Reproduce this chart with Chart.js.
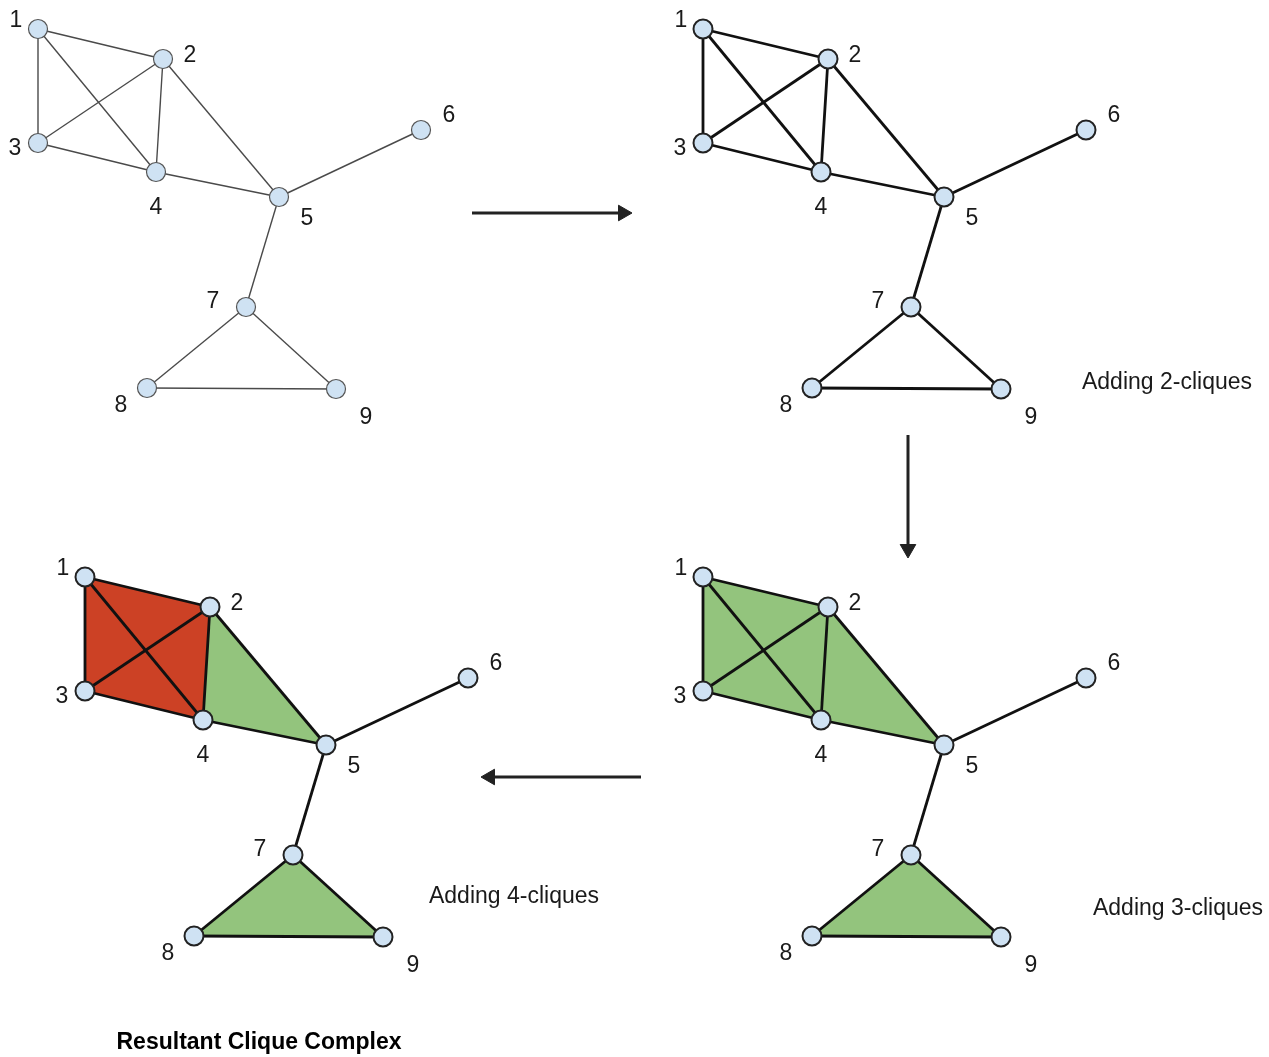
<!DOCTYPE html>
<html>
<head>
<meta charset="utf-8">
<script src="https://cdn.jsdelivr.net/npm/chart.js@4.4.0/dist/chart.umd.min.js"></script>
<style>
  body { margin: 0; background: #fff; }
  #wrap { width: 1269px; height: 1057px; }
</style>
</head>
<body>
<div id="wrap"><canvas id="graph" width="1269" height="1057"></canvas></div>
<script>
// nodes of the base graph (top-left panel), in picture units
const nodeNames = ["1", "2", "3", "4", "5", "6", "7", "8", "9"];
const nodeX = [38, 163, 38, 156, 279, 421, 246, 147, 336];
const nodeY = [29, 59, 143, 172, 197, 130, 307, 388, 389];

// edges, by node number
const edges = [[1, 2], [1, 3], [1, 4], [2, 3], [2, 4], [2, 5], [3, 4], [4, 5], [5, 6], [5, 7], [7, 8], [7, 9], [8, 9]];

// the 4 panels: same graph, shifted
const panelDX = [0, 665, 665, 47];
const panelDY = [0, 0, 548, 548];

// filled cliques in each panel (node numbers, in polygon order)
const greenCliques = [[], [], [[1, 2, 4, 3], [2, 5, 4], [7, 8, 9]], [[2, 5, 4], [7, 8, 9]]];
const redCliques = [[], [], [], [[1, 2, 4, 3]]];

// arrows between panels
const arrowStartX = [472, 908, 641];
const arrowStartY = [213, 435, 777];
const arrowEndX = [632, 908, 481];
const arrowEndY = [213, 558, 777];

// captions
const captionTexts = ["Adding 2-cliques", "Adding 3-cliques", "Adding 4-cliques", "Resultant Clique Complex"];
const captionX = [1167, 1178, 514, 259];
const captionY = [383, 909, 897, 1043];

// where the number sits next to its node
const labelDX = [-22, 27, -23, 0, 28, 28, -33, -26, 30];
const labelDY = [-8, -3, 6, 36, 22, -14, -5, 18, 29];

const GREEN = "#93c47d";
const RED = "#cc4125";
const NODE_FILL = "#cfe2f3";
const FONT = "'Liberation Sans', Arial, sans-serif";

function pt(n, p) {
  return { x: nodeX[n - 1] + panelDX[p], y: nodeY[n - 1] + panelDY[p] };
}

const datasets = [];

// filled cliques (drawn at the back)
function addClique(poly, p, color) {
  const data = poly.map((n) => pt(n, p));
  data.push(pt(poly[0], p));
  datasets.push({
    data: data,
    showLine: true,
    fill: "shape",
    backgroundColor: color,
    borderColor: "rgba(0,0,0,0)",
    borderWidth: 0,
    pointRadius: 0,
    tension: 0,
    order: 3,
  });
}
for (let p = 0; p < 4; p++) {
  greenCliques[p].forEach((c) => addClique(c, p, GREEN));
  redCliques[p].forEach((c) => addClique(c, p, RED));
}

// edges
for (let p = 0; p < 4; p++) {
  for (const e of edges) {
    datasets.push({
      data: [pt(e[0], p), pt(e[1], p)],
      showLine: true,
      fill: false,
      borderColor: p == 0 ? "#4a4a4a" : "#111",
      borderWidth: p == 0 ? 1.4 : 2.8,
      pointRadius: 0,
      order: 2,
    });
  }
}

// nodes
for (let p = 0; p < 4; p++) {
  datasets.push({
    data: nodeNames.map((_, i) => pt(i + 1, p)),
    showLine: false,
    pointRadius: 9.5,
    pointBackgroundColor: NODE_FILL,
    pointBorderColor: p == 0 ? "#555" : "#222",
    pointBorderWidth: p == 0 ? 1.2 : 2,
    order: 1,
  });
}

// arrows: line + triangle head at the end
const HEAD = 9;
for (let i = 0; i < arrowStartX.length; i++) {
  const dx = arrowEndX[i] - arrowStartX[i];
  const dy = arrowEndY[i] - arrowStartY[i];
  const len = Math.sqrt(dx * dx + dy * dy);
  const ux = dx / len, uy = dy / len;
  const rot = (Math.atan2(ux, -uy) * 180) / Math.PI;
  datasets.push({
    data: [
      { x: arrowStartX[i], y: arrowStartY[i] },
      { x: arrowEndX[i] - ux * HEAD, y: arrowEndY[i] - uy * HEAD },
    ],
    showLine: true,
    fill: false,
    borderColor: "#222",
    borderWidth: 3,
    pointStyle: "triangle",
    pointRotation: rot,
    pointRadius: (ctx) => (ctx.dataIndex == 1 ? HEAD : 0),
    pointBackgroundColor: "#222",
    pointBorderColor: "#222",
    pointBorderWidth: 1,
    order: 0,
  });
}

// node numbers and captions, placed through the scales
const textPlugin = {
  id: "texts",
  afterDatasetsDraw(chart) {
    const ctx = chart.ctx;
    const xs = chart.scales.x, ys = chart.scales.y;
    ctx.save();
    ctx.fillStyle = "#1a1a1a";
    ctx.textAlign = "center";
    ctx.textBaseline = "middle";
    ctx.font = "23px " + FONT;
    for (let p = 0; p < 4; p++) {
      nodeNames.forEach((name, i) => {
        const q = pt(i + 1, p);
        ctx.fillText(name, xs.getPixelForValue(q.x + labelDX[i]), ys.getPixelForValue(q.y + labelDY[i]));
      });
    }
    captionTexts.forEach((t, i) => {
      ctx.font = i == 3 ? "bold 23px " + FONT : "23px " + FONT;
      ctx.fillStyle = i == 3 ? "#000" : "#1a1a1a";
      ctx.fillText(t, xs.getPixelForValue(captionX[i]), ys.getPixelForValue(captionY[i]));
    });
    ctx.restore();
  },
};

new Chart(document.getElementById("graph"), {
  type: "scatter",
  data: { datasets: datasets },
  options: {
    responsive: false,
    animation: false,
    events: [],
    layout: { padding: 0, autoPadding: false },
    plugins: { legend: { display: false }, tooltip: { enabled: false } },
    scales: {
      x: { type: "linear", min: 0, max: 1269, display: false },
      y: { type: "linear", min: 0, max: 1057, reverse: true, display: false },
    },
  },
  plugins: [textPlugin],
});
</script>
</body>
</html>
